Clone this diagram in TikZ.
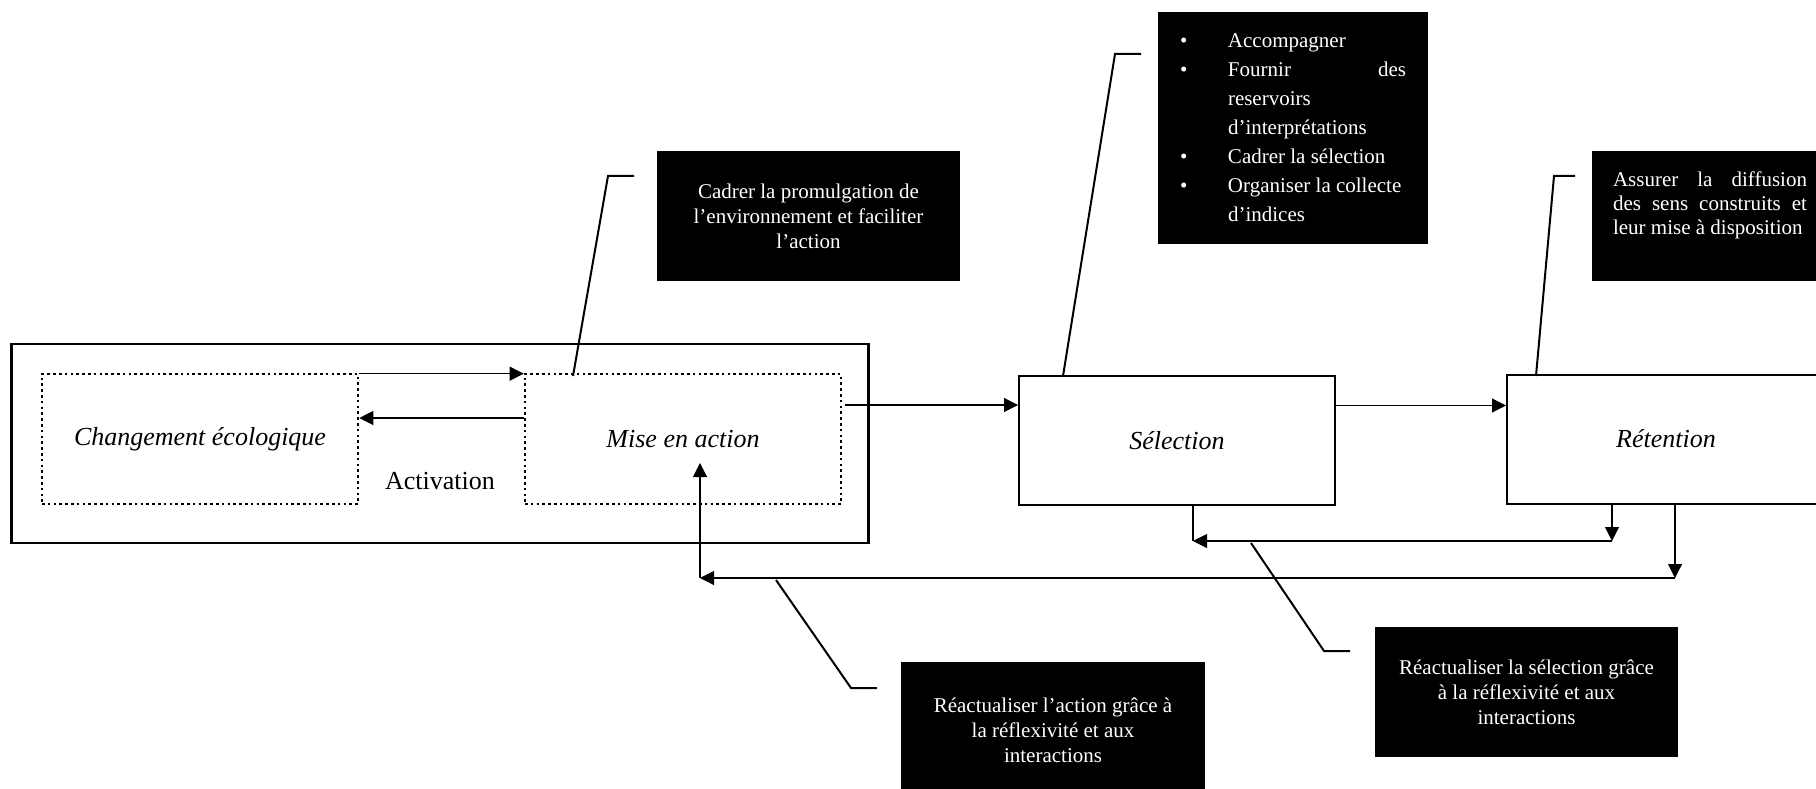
\documentclass[tikz,border=0pt]{standalone}
\usepackage{fontspec}
\setmainfont{Liberation Serif}
\usetikzlibrary{arrows.meta}
\newcommand\blitem[1]{\noindent\makebox[48pt][l]{\textbullet}#1\par}
\begin{document}
\begin{tikzpicture}[x=1pt,y=-1pt,
  arr/.style={line width=1.1pt,-{Triangle[length=14pt,width=14pt]}},
  plain/.style={line width=1.1pt},
  callline/.style={line width=2pt},
  dotbox/.style={draw,line width=2.6pt,dash pattern=on 2.6pt off 3.2pt,minimum width=316pt,minimum height=130pt,font=\fontsize{26}{30}\selectfont\itshape,inner sep=0pt},
  solidbox/.style={draw,line width=2pt,minimum width=316pt,minimum height=129pt,font=\fontsize{26}{30}\selectfont\itshape,inner sep=0pt},
  callbox/.style={fill=black,text=white,font=\fontsize{21}{25}\selectfont,align=center,inner sep=0pt}]
\useasboundingbox (0,0) rectangle (1816,789);
\clip (0,0) rectangle (1816,789);
% main structure
\node[draw,line width=2.6pt,minimum width=857pt,minimum height=199pt,inner sep=0pt] (outer) at (440,443.5) {};
\node[dotbox] (chg) at (200,439) {Changement écologique};
\node[dotbox] (mise) at (683,439) {Mise en action};
\node[font=\fontsize{26}{30}\selectfont,inner sep=0pt] (act) at (440,481) {Activation};
\node[solidbox] (sel) at (1177,440.5) {Sélection};
\node[solidbox,minimum width=318pt] (ret) at (1666,439) {Rétention};
% black callout boxes
\node[callbox,minimum width=303pt,minimum height=130pt] (cb1) at (808.5,216) {Cadrer la promulgation de\\l’environnement et faciliter\\l’action};
\node[callbox,minimum width=270pt,minimum height=232pt] (cb2) at (1293,128) {\parbox{226pt}{\baselineskip=29pt
\blitem{Accompagner}
\blitem{\makebox[178pt][s]{Fournir des}}
\noindent\hspace*{48pt}reservoirs\par
\noindent\hspace*{48pt}d’interprétations\par
\blitem{Cadrer la sélection}
\blitem{Organiser la collecte}
\noindent\hspace*{48pt}d’indices\par}};
\node[callbox,minimum width=236pt,minimum height=130pt,align=left] (cb3) at (1710,216) {\parbox[t][88pt][t]{194pt}{\baselineskip=24pt
\noindent\makebox[194pt][s]{Assurer la diffusion}\par
\noindent\makebox[194pt][s]{des sens construits et}\par
\noindent leur mise à disposition\par}};
\node[callbox,minimum width=304pt,minimum height=136pt] (cb4) at (1053,730) {Réactualiser l’action grâce à\\la réflexivité et aux\\interactions};
\node[callbox,minimum width=303pt,minimum height=130pt] (cb5) at (1526.5,692) {Réactualiser la sélection grâce\\à la réflexivité et aux\\interactions};
% arrows inside the outer box
\draw[arr] ([yshift=-1pt]chg.north east) -- ([yshift=-1pt]mise.north west);
\draw[arr] ([yshift=21pt]mise.west) -- ([yshift=21pt]chg.east);
% forward arrows
\draw[arr] ([xshift=3pt,yshift=34pt]mise.east) -- ([yshift=34pt]mise.east -| sel.west);
\draw[arr] ([yshift=35pt]sel.east) -- ([yshift=35pt]sel.east -| ret.west);
% feedback loops
\coordinate (r1t) at (1612,504);
\coordinate (r1b) at (1612,541);
\coordinate (s1b) at (1193,541);
\coordinate (s1t) at (1193,505);
\draw[arr] (r1t) -- (r1b);
\draw[arr] (r1b) -- (s1b);
\draw[plain] (s1t) -- (s1b);
\coordinate (r2t) at (1675,504);
\coordinate (r2b) at (1675,578);
\coordinate (m2b) at (700,578);
\coordinate (m2t) at (700,463);
\draw[arr] (r2t) -- (r2b);
\draw[arr] (r2b) -- (m2b);
\draw[arr] (m2b) -- (m2t);
% callout lines
\coordinate (k1a) at (573,376); \coordinate (k1b) at (608,176); \coordinate (k1c) at (634,176);
\draw[callline] (k1a) -- (k1b) -- (k1c);
\coordinate (k2a) at (1063,376); \coordinate (k2b) at (1115,54); \coordinate (k2c) at (1141,54);
\draw[callline] (k2a) -- (k2b) -- (k2c);
\coordinate (k3a) at (1536,376); \coordinate (k3b) at (1554,176); \coordinate (k3c) at (1575,176);
\draw[callline] (k3a) -- (k3b) -- (k3c);
\coordinate (k4a) at (776,580); \coordinate (k4b) at (851,688); \coordinate (k4c) at (877,688);
\draw[callline] (k4a) -- (k4b) -- (k4c);
\coordinate (k5a) at (1251,543); \coordinate (k5b) at (1324,651); \coordinate (k5c) at (1350,651);
\draw[callline] (k5a) -- (k5b) -- (k5c);
\end{tikzpicture}
\end{document}
